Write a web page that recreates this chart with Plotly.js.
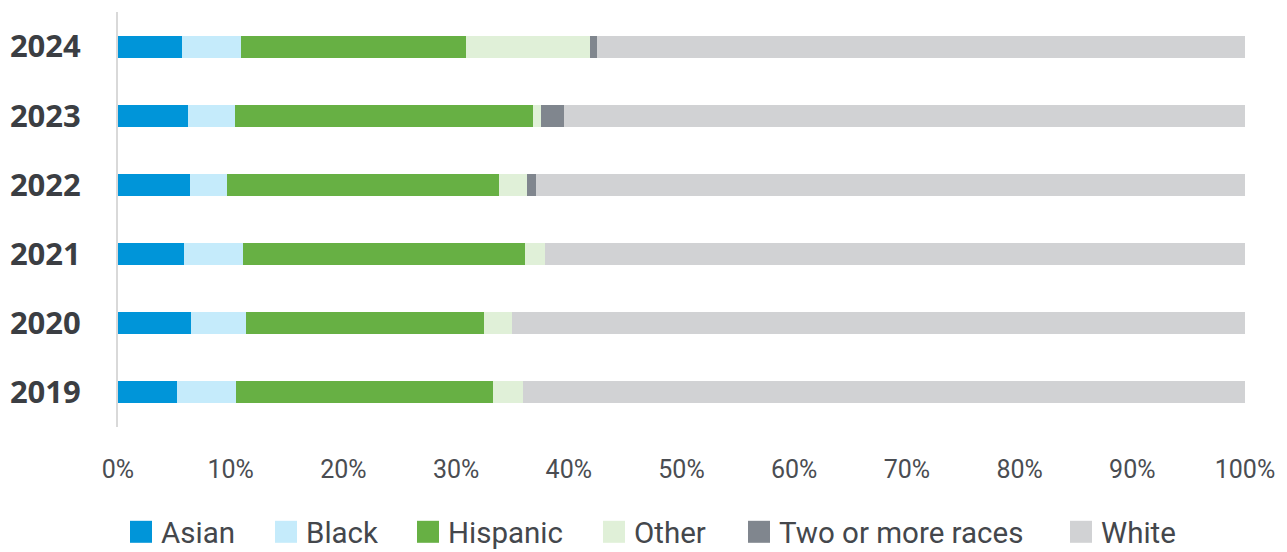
<!DOCTYPE html>
<html>
<head>
<meta charset="utf-8">
<script src="https://cdn.plot.ly/plotly-3.0.1.min.js"></script>
<style>html,body{margin:0;padding:0;background:#fff;}#chart{width:1287px;height:552px;}</style>
</head>
<body>
<div id="chart"></div>
<script>
const years = ['2019', '2020', '2021', '2022', '2023', '2024'];
const asian    = [5.2, 6.45, 5.9, 6.4, 6.2, 5.7];
const black    = [5.3, 4.9, 5.2, 3.25, 4.2, 5.2];
const hispanic = [22.8, 21.15, 25.0, 24.2, 26.4, 20.0];
const other    = [2.65, 2.5, 1.75, 2.4, 0.7, 11.0];
const twoPlus  = [0, 0, 0, 0.8, 2.1, 0.6];
const white    = [64.05, 65.0, 62.15, 62.95, 60.4, 57.5];
const xTicks   = [0, 10, 20, 30, 40, 50, 60, 70, 80, 90, 100];
const xTickText = xTicks.map(v => v + '%');

const seriesNames  = ['Asian', 'Black', 'Hispanic', 'Other', 'Two or more races', 'White'];
const seriesValues = [asian, black, hispanic, other, twoPlus, white];
const seriesColors = ['#0095d9', '#c5ebfb', '#67b044', '#e0f0d8', '#80868e', '#d1d2d4'];
// left pixel of each legend entry (layout only)
const legendLeft   = [121, 266, 408, 594, 739, 1061];

const font = 'Roboto, "Open Sans", sans-serif';
const legendIds = ['legend', 'legend2', 'legend3', 'legend4', 'legend5', 'legend6'];

const traces = seriesNames.map((name, i) => ({
  type: 'bar',
  orientation: 'h',
  name: name,
  y: years,
  x: seriesValues[i],
  marker: {color: seriesColors[i], line: {width: 0}},
  legend: legendIds[i],
  hoverinfo: 'name+x'
}));

const layout = {
  width: 1287,
  height: 552,
  barmode: 'stack',
  bargap: 0.68,
  paper_bgcolor: '#ffffff',
  plot_bgcolor: '#ffffff',
  margin: {l: 118, r: 42, t: 12, b: 124.5},
  showlegend: true,
  xaxis: {
    range: [0, 100],
    tickvals: xTicks,
    ticktext: xTickText,
    showgrid: false,
    zeroline: false,
    showline: false,
    ticks: '',
    ticklabelstandoff: 25,
    tickfont: {family: font, size: 25, color: '#4a4d52'},
    fixedrange: true
  },
  yaxis: {
    type: 'category',
    categoryorder: 'array',
    categoryarray: years,
    showgrid: false,
    zeroline: false,
    showline: true,
    linecolor: '#d9d9d9',
    linewidth: 2,
    ticks: '',
    ticklabelstandoff: 29,
    tickfont: {family: '"Open Sans", sans-serif', size: 31, color: '#3b3e43', weight: 'bold'},
    fixedrange: true
  }
};

legendIds.forEach((id, i) => {
  layout[id] = {
    orientation: 'h',
    xref: 'container', yref: 'container',
    x: legendLeft[i] / 1287, xanchor: 'left',
    y: 0.036, yanchor: 'middle',
    font: {family: font, size: 29.5, color: '#44474c'},
    itemwidth: 30,
    bgcolor: 'rgba(0,0,0,0)',
    borderwidth: 0
  };
});

Plotly.newPlot('chart', traces, layout, {displayModeBar: false, staticPlot: true}).then(function () {
  document.querySelectorAll('g.legendpoints path').forEach(function (p) {
    p.setAttribute('d', 'M11,11H-11V-11H11Z');
  });
});
</script>
</body>
</html>
